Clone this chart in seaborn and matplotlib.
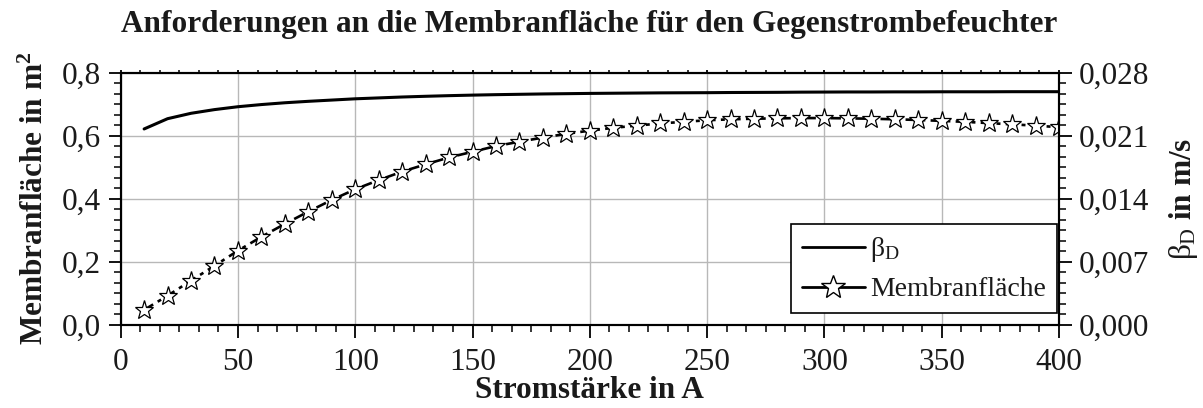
import matplotlib
matplotlib.use("Agg")
import matplotlib.pyplot as plt
from matplotlib.lines import Line2D
from matplotlib.ticker import AutoMinorLocator, FixedLocator, FuncFormatter
import numpy as np
import pandas as pd
import seaborn as sns

# Stromstärke (A)
strom = [10, 20, 30, 40, 50, 60, 70, 80, 90, 100,
         110, 120, 130, 140, 150, 160, 170, 180, 190, 200,
         210, 220, 230, 240, 250, 260, 270, 280, 290, 300,
         310, 320, 330, 340, 350, 360, 370, 380, 390, 400]

# erforderliche Membranfläche (m²)
membranflaeche = [0.047, 0.092, 0.140, 0.187, 0.235, 0.279, 0.320, 0.359, 0.396, 0.430,
                  0.459, 0.486, 0.509, 0.531, 0.549, 0.567, 0.581, 0.594, 0.606, 0.616,
                  0.625, 0.632, 0.639, 0.644, 0.649, 0.652, 0.654, 0.655, 0.656, 0.656,
                  0.655, 0.654, 0.652, 0.650, 0.647, 0.644, 0.640, 0.636, 0.632, 0.627]

# Stoffübergangskoeffizient beta_D (m/s)
beta_d = [0.02175, 0.02289, 0.02349, 0.02390, 0.02422, 0.02446, 0.02466, 0.02482, 0.02496, 0.02510,
          0.02520, 0.02530, 0.02538, 0.02545, 0.02551, 0.02556, 0.02560, 0.02564, 0.02567, 0.02570,
          0.02572, 0.02574, 0.02576, 0.02577, 0.02578, 0.02580, 0.02581, 0.02582, 0.02584, 0.02585,
          0.02586, 0.02586, 0.02587, 0.02587, 0.02588, 0.02588, 0.02588, 0.02589, 0.02589, 0.02589]

x_ticks = [0, 50, 100, 150, 200, 250, 300, 350, 400]
y_left_ticks = [0.0, 0.2, 0.4, 0.6, 0.8]
y_right_ticks = [0.000, 0.007, 0.014, 0.021, 0.028]

df = pd.DataFrame({"strom": strom, "flaeche": membranflaeche, "beta": beta_d})

sns.set_theme(style="ticks")
plt.rcParams["font.family"] = ["Liberation Serif", "DejaVu Serif"]
plt.rcParams["mathtext.fontset"] = "custom"
plt.rcParams["mathtext.rm"] = "Liberation Serif"
plt.rcParams["mathtext.it"] = "Liberation Serif"
plt.rcParams["mathtext.bf"] = "Liberation Serif:bold"

FS = 22.5
TXT = "#1a1a1a"

fig = plt.figure(figsize=(12.03, 4.08), dpi=100)
ax = fig.add_axes([0.1003, 0.2042, 0.7800, 0.6176])
ax2 = ax.twinx()

sns.lineplot(data=df, x="strom", y="flaeche", ax=ax, color="black",
             linewidth=1.9, linestyle=(0, (4, 2, 1.5, 2)),
             marker="*", markersize=14, markerfacecolor="white",
             markeredgecolor="black", markeredgewidth=0.9, zorder=3)
sns.lineplot(data=df, x="strom", y="beta", ax=ax2, color="black",
             linewidth=2.2, zorder=3)

ax.set_xlim(0, 400)
ax.set_ylim(0, 0.8)
ax2.set_ylim(0, 0.028)

ax.xaxis.set_major_locator(FixedLocator(x_ticks))
ax.yaxis.set_major_locator(FixedLocator(y_left_ticks))
ax2.yaxis.set_major_locator(FixedLocator(y_right_ticks))
ax.xaxis.set_minor_locator(AutoMinorLocator(6))
ax.yaxis.set_minor_locator(AutoMinorLocator(6))
ax2.yaxis.set_minor_locator(AutoMinorLocator(6))

comma1 = FuncFormatter(lambda v, p: f"{v:.1f}".replace(".", ","))
comma3 = FuncFormatter(lambda v, p: f"{v:.3f}".replace(".", ","))
ax.yaxis.set_major_formatter(comma1)
ax2.yaxis.set_major_formatter(comma3)

ax.grid(True, which="major", color="#b8b8b8", linewidth=1.0)
ax.set_axisbelow(True)

for a in (ax, ax2):
    for s in a.spines.values():
        s.set_linewidth(1.5)
        s.set_color("black")
        s.set_visible(True)

ax.tick_params(axis="both", which="major", direction="out", length=9, width=1.3,
               labelsize=FS, color="black", labelcolor=TXT)
ax.tick_params(axis="x", which="major", pad=8)
ax.tick_params(axis="y", which="major", pad=5)
ax.tick_params(axis="both", which="minor", direction="out", length=5, width=1.1, color="black")
ax.tick_params(axis="x", which="both", top=True, labeltop=False)
ax2.tick_params(axis="y", which="major", direction="out", length=9, width=1.3,
                labelsize=FS, color="black", labelcolor=TXT, pad=5)
ax2.tick_params(axis="y", which="minor", direction="out", length=5, width=1.1, color="black")
# short ticks along the top edge
for t in ax.xaxis.get_major_ticks() + ax.xaxis.get_minor_ticks():
    t.tick2line.set_markersize(2)

ax.set_xlabel("Stromstärke in A", fontsize=FS, fontweight="bold", color=TXT, labelpad=-1)
ax.set_ylabel(r"Membranfläche in m$^{\mathbf{2}}$", fontsize=FS, fontweight="bold",
              color=TXT, labelpad=9)
ax2.set_ylabel(r"$\beta_{\mathrm{D}}$ in m/s", fontsize=FS, fontweight="bold",
               color=TXT, labelpad=13)
fig.suptitle("Anforderungen an die Membranfläche für den Gegenstrombefeuchter",
             x=0.49, y=0.975, fontsize=FS, fontweight="bold", color=TXT)

handles = [
    Line2D([], [], color="black", linewidth=2.0),
    Line2D([], [], color="black", linewidth=2.0, marker="*", markersize=18,
           markerfacecolor="white", markeredgecolor="black", markeredgewidth=1.0),
]
leg = ax2.legend(handles, [r"$\beta_{\mathrm{D}}$", "Membranfläche"],
                 loc="lower right", bbox_to_anchor=(0.998, 0.045),
                 borderaxespad=0, frameon=True, fancybox=False, shadow=False,
                 fontsize=20, handlelength=2.25, handletextpad=0.2,
                 labelspacing=0.45, borderpad=0.4, framealpha=1)
for txt in leg.get_texts():
    txt.set_color(TXT)
leg.get_frame().set_edgecolor("black")
leg.get_frame().set_linewidth(1.2)

fig.savefig("out.png", dpi=100)
